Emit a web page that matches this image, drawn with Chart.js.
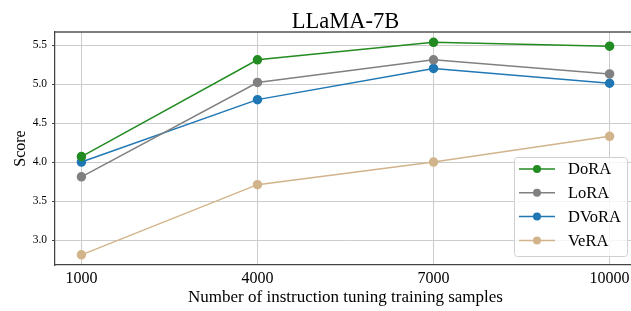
<!DOCTYPE html>
<html>
<head>
<meta charset="utf-8">
<script src="https://cdn.jsdelivr.net/npm/chart.js@4"></script>
<style>
  html, body { margin: 0; padding: 0; background: #fff; overflow: hidden; }
  #wrap { width: 631px; height: 311px; overflow: hidden; }
</style>
</head>
<body>
<div id="wrap"><canvas id="chart" width="636" height="311"></canvas></div>
<script>
// data
const samples = [1000, 4000, 7000, 10000];
const yTicks = [3.0, 3.5, 4.0, 4.5, 5.0, 5.5];
const doraScores = [4.07, 5.31, 5.535, 5.485];
const loraScores = [3.81, 5.02, 5.31, 5.13];
const dvoraScores = [4.0, 4.8, 5.2, 5.01];
const veraScores = [2.81, 3.71, 4.0, 4.33];

const serif = "'Liberation Serif', 'Times New Roman', serif";

function toPoints(values) {
  return values.map((v, i) => ({ x: samples[i], y: v }));
}

function makeSeries(label, values, color) {
  return {
    label: label,
    data: toPoints(values),
    borderColor: color,
    backgroundColor: color,
    pointBackgroundColor: color,
    pointBorderColor: color,
    borderWidth: 1.5,
    pointRadius: 4,
    pointHoverRadius: 4,
    tension: 0,
  };
}

// title + top spine
const decorations = {
  id: "decorations",
  beforeDatasetsDraw(chart) {
    const ctx = chart.ctx;
    const area = chart.chartArea;
    ctx.save();
    ctx.strokeStyle = "#555";
    ctx.lineWidth = 1.5;
    ctx.beginPath();
    ctx.moveTo(area.left, area.top);
    ctx.lineTo(area.right, area.top);
    ctx.stroke();
    ctx.restore();
  },
  afterDraw(chart) {
    const ctx = chart.ctx;
    const area = chart.chartArea;
    ctx.save();
    ctx.fillStyle = "#000";
    ctx.font = "22.5px " + serif;
    ctx.textAlign = "center";
    ctx.textBaseline = "alphabetic";
    ctx.fillText("LLaMA-7B", (area.left + area.right) / 2, 27.5);
    ctx.restore();
  },
};

// legend drawn inside the plot, lower right
const innerLegend = {
  id: "innerLegend",
  afterDraw(chart) {
    const ctx = chart.ctx;
    const area = chart.chartArea;
    const w = 113, h = 99;
    const x = area.right - 9 - w;
    const y = area.bottom - 9 - h;
    ctx.save();
    ctx.fillStyle = "rgba(255,255,255,0.8)";
    ctx.strokeStyle = "#d0d0d0";
    ctx.lineWidth = 1;
    ctx.beginPath();
    ctx.roundRect(x + 0.5, y + 0.5, w, h, 3);
    ctx.fill();
    ctx.stroke();

    ctx.font = "16.5px " + serif;
    ctx.textBaseline = "middle";
    ctx.textAlign = "left";
    chart.data.datasets.forEach((ds, i) => {
      const cy = y + 12 + i * 23.8;
      ctx.strokeStyle = ds.borderColor;
      ctx.lineWidth = 1.5;
      ctx.beginPath();
      ctx.moveTo(x + 5, cy);
      ctx.lineTo(x + 41, cy);
      ctx.stroke();
      ctx.fillStyle = ds.borderColor;
      ctx.beginPath();
      ctx.arc(x + 23, cy, 4, 0, Math.PI * 2);
      ctx.fill();
      ctx.fillStyle = "#000";
      ctx.fillText(ds.label, x + 54, cy + 1);
    });
    ctx.restore();
  },
};

const ctx = document.getElementById("chart").getContext("2d");
new Chart(ctx, {
  type: "line",
  data: {
    datasets: [
      makeSeries("DoRA", doraScores, "#228b22"),
      makeSeries("LoRA", loraScores, "#808080"),
      makeSeries("DVoRA", dvoraScores, "#1f77b4"),
      makeSeries("VeRA", veraScores, "#d2b48c"),
    ],
  },
  options: {
    responsive: false,
    animation: false,
    layout: { autoPadding: false, padding: { top: 32, left: 0, right: 0, bottom: 0 } },
    plugins: {
      legend: { display: false },
      title: { display: false },
      tooltip: { enabled: false },
    },
    scales: {
      x: {
        type: "linear",
        min: 550,
        max: 10450,
        afterBuildTicks: (scale) => {
          scale.ticks = samples.map((v) => ({ value: v }));
        },
        afterFit: (scale) => {
          scale.height = 46;
          scale.paddingLeft = 0;
          scale.paddingRight = 0;
        },
        ticks: {
          callback: (v) => String(v),
          color: "#000",
          font: { family: serif, size: 16 },
          padding: 4,
          maxRotation: 0,
        },
        grid: { color: "#cccccc", lineWidth: 1, drawTicks: false },
        border: { color: "#444", width: 1.25 },
        title: {
          display: true,
          text: "Number of instruction tuning training samples",
          color: "#000",
          font: { family: serif, size: 17 },
          padding: 3,
        },
      },
      y: {
        min: 2.68,
        max: 5.667,
        afterBuildTicks: (scale) => {
          scale.ticks = yTicks.map((v) => ({ value: v }));
        },
        afterFit: (scale) => {
          scale.width = 55;
        },
        ticks: {
          callback: (v) => Number(v).toFixed(1),
          color: "#000",
          font: { family: serif, size: 11.5 },
          padding: 5,
        },
        grid: {
          color: "#cccccc",
          lineWidth: 1,
          drawTicks: true,
          tickLength: 3,
          tickColor: "#444",
        },
        border: { color: "#444", width: 1.25 },
        title: {
          display: true,
          text: "Score",
          color: "#000",
          font: { family: serif, size: 16 },
          padding: 11,
        },
      },
    },
  },
  plugins: [decorations, innerLegend],
});
</script>
</body>
</html>
